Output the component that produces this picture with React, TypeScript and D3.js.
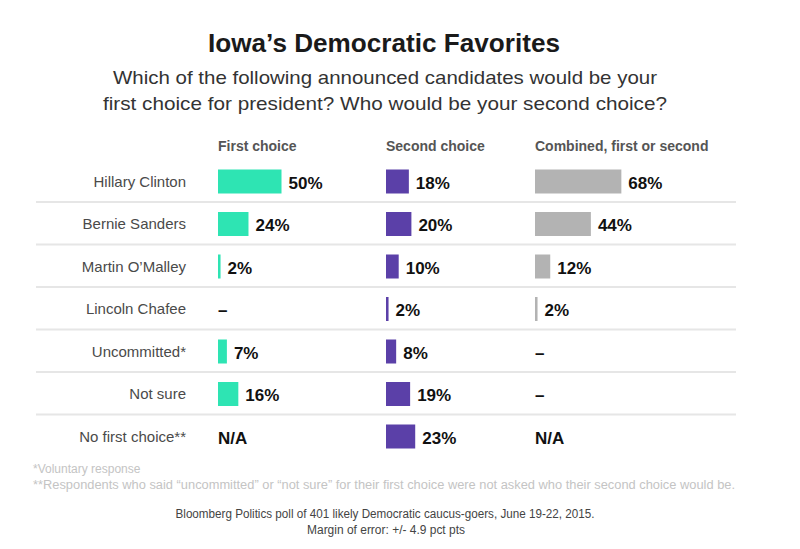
import React from "react";
import * as d3 from "d3";

const categories = [
  "Hillary Clinton",
  "Bernie Sanders",
  "Martin O’Malley",
  "Lincoln Chafee",
  "Uncommitted*",
  "Not sure",
  "No first choice**",
];
type V = number | "–" | "N/A";
const firstChoice: V[] = [50, 24, 2, "–", 7, 16, "N/A"];
const secondChoice: V[] = [18, 20, 10, 2, 8, 19, 23];
const combined: V[] = [68, 44, 12, 2, "–", "–", "N/A"];
const columnTitles = ["First choice", "Second choice", "Combined, first or second"];
const columnColors = ["#2ee4b3", "#5b40a8", "#b3b3b3"];

const W = 800;
const H = 549;
const FONT = "'Liberation Sans', Arial, Helvetica, sans-serif";

export default function App() {
  const y = d3
    .scalePoint<string>()
    .domain(categories)
    .range([181.5, 436.5]);
  const x = d3.scaleLinear().domain([0, 100]).range([0, 127]);
  const colX = [218, 386, 535];
  const series = [firstChoice, secondChoice, combined];
  const barH = 24;

  return (
    <svg
      width={W}
      height={H}
      style={{ position: "absolute", left: 0, top: 0, background: "#fff" }}
      fontFamily={FONT}
    >
      <text
        x={384}
        y={52}
        textAnchor="middle"
        fontSize={25}
        fontWeight={700}
        fill="#1a1a1a"
        textLength={352}
        lengthAdjust="spacingAndGlyphs"
      >
        Iowa’s Democratic Favorites
      </text>
      <text
        x={385}
        y={84}
        textAnchor="middle"
        fontSize={19}
        fill="#333"
        textLength={544}
        lengthAdjust="spacingAndGlyphs"
      >
        Which of the following announced candidates would be your
      </text>
      <text
        x={385}
        y={110}
        textAnchor="middle"
        fontSize={19}
        fill="#333"
        textLength={564}
        lengthAdjust="spacingAndGlyphs"
      >
        first choice for president? Who would be your second choice?
      </text>

      {columnTitles.map((t, i) => (
        <text
          key={t}
          x={colX[i]}
          y={151}
          fontSize={14}
          fontWeight={700}
          fill="#555"
        >
          {t}
        </text>
      ))}

      {categories.slice(0, -1).map((c) => (
        <line
          key={"sep" + c}
          x1={36}
          x2={736}
          y1={(y(c) as number) + 20.5}
          y2={(y(c) as number) + 20.5}
          stroke="#e6e6e6"
          strokeWidth={2}
        />
      ))}

      {categories.map((c) => (
        <text
          key={"lab" + c}
          x={186}
          y={(y(c) as number) + 5}
          textAnchor="end"
          fontSize={15}
          fill="#4a4a4a"
        >
          {c}
        </text>
      ))}

      {series.map((s, si) =>
        s.map((v, i) => {
          const cy = y(categories[i]) as number;
          if (typeof v === "number") {
            const w = x(v);
            return (
              <g key={`b${si}-${i}`}>
                <rect
                  x={colX[si]}
                  y={cy - barH / 2}
                  width={w}
                  height={barH}
                  fill={columnColors[si]}
                />
                <text
                  x={colX[si] + w + 7}
                  y={cy + 7}
                  fontSize={17}
                  fontWeight={700}
                  fill="#111"
                >
                  {v}%
                </text>
              </g>
            );
          }
          return (
            <text
              key={`b${si}-${i}`}
              x={colX[si]}
              y={cy + 7}
              fontSize={17}
              fontWeight={700}
              fill="#111"
            >
              {v}
            </text>
          );
        })
      )}

      <text x={33} y={473} fontSize={12} fill="#c4c4c4">
        *Voluntary response
      </text>
      <text
        x={33}
        y={489}
        fontSize={12}
        fill="#c4c4c4"
        textLength={702}
        lengthAdjust="spacingAndGlyphs"
      >
        **Respondents who said “uncommitted” or “not sure” for their first choice were not asked who their second choice would be.
      </text>
      <text
        x={385}
        y={518}
        textAnchor="middle"
        fontSize={12}
        fill="#444"
        textLength={419}
        lengthAdjust="spacingAndGlyphs"
      >
        Bloomberg Politics poll of 401 likely Democratic caucus-goers, June 19-22, 2015.
      </text>
      <text
        x={386}
        y={534}
        textAnchor="middle"
        fontSize={12}
        fill="#444"
        textLength={158}
        lengthAdjust="spacingAndGlyphs"
      >
        Margin of error: +/- 4.9 pct pts
      </text>
    </svg>
  );
}
